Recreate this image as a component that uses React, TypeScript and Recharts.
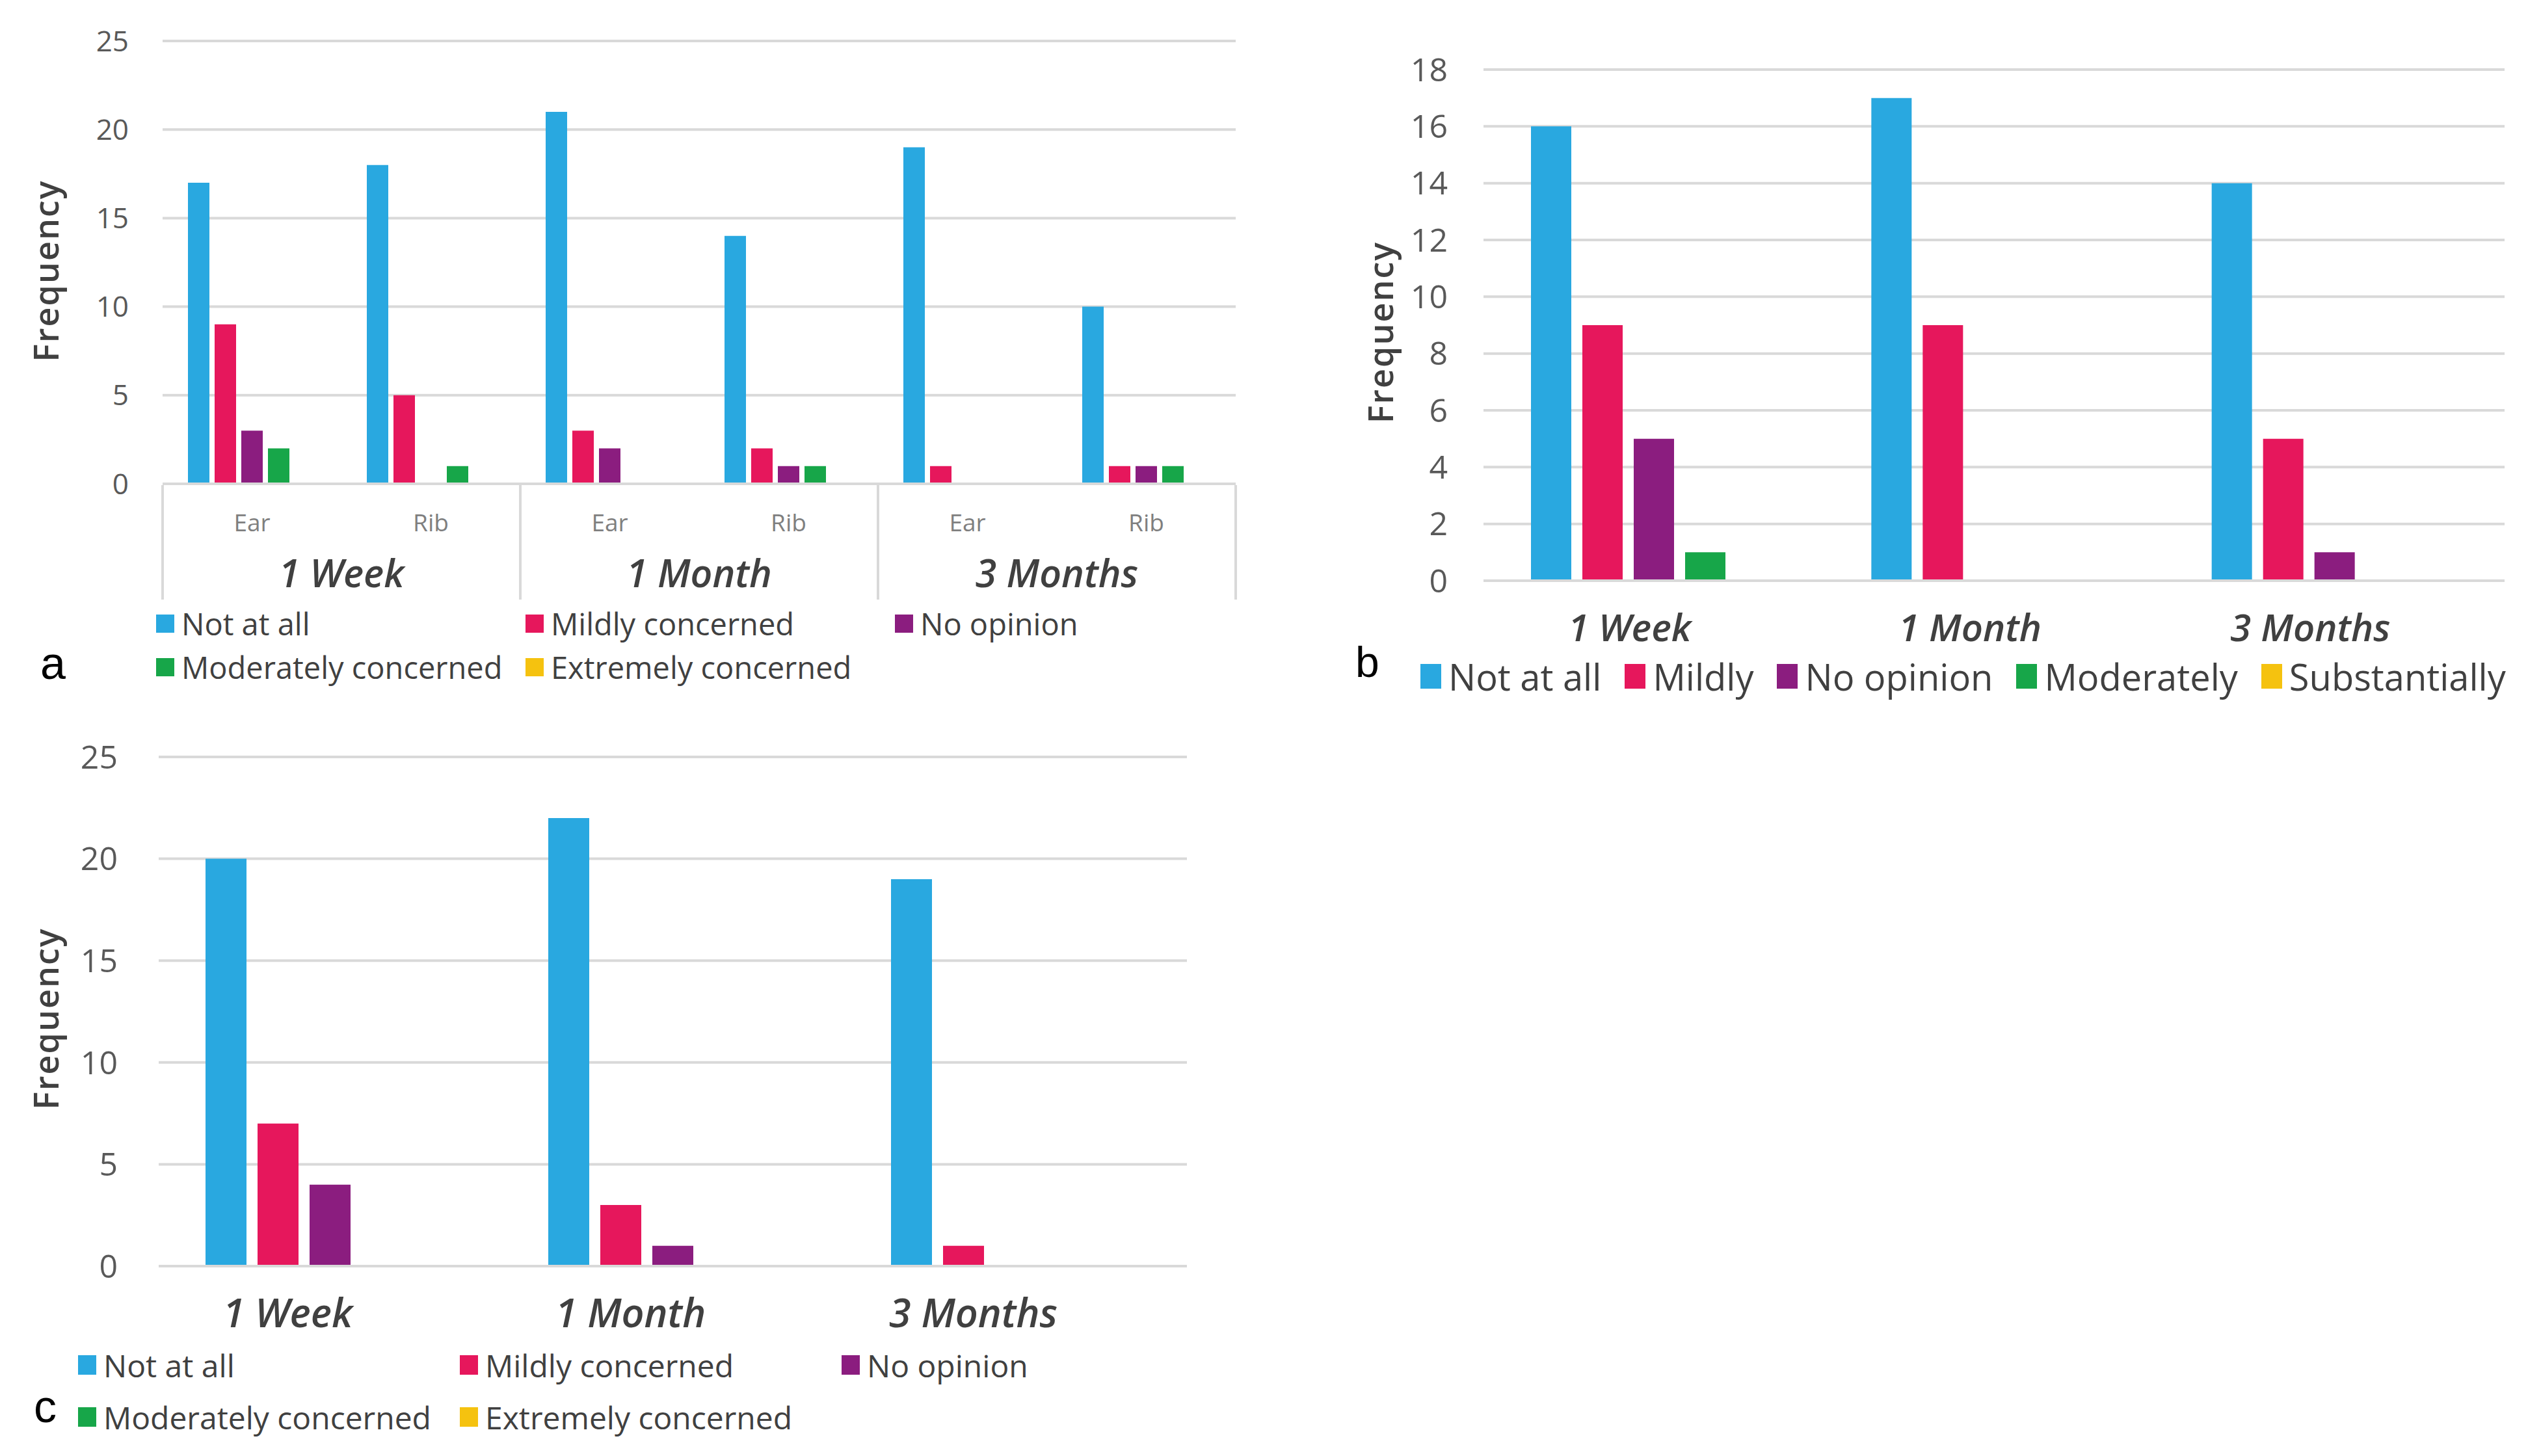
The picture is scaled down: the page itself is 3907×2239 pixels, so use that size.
import React from 'react';
import { BarChart, Bar, XAxis, YAxis, CartesianGrid, Legend } from 'recharts';

// panel a: site x period
const A_PERIODS = ['1 Week', '1 Month', '3 Months'];
const A_SITES = ['Ear', 'Rib', 'Ear', 'Rib', 'Ear', 'Rib'];
const A_NOT_AT_ALL = [17, 18, 21, 14, 19, 10];
const A_MILDLY = [9, 5, 3, 2, 1, 1];
const A_NO_OPINION = [3, 0, 2, 1, 0, 1];
const A_MODERATELY = [2, 1, 0, 1, 0, 1];
const A_EXTREMELY = [0, 0, 0, 0, 0, 0];
const A_LEGEND = ['Not at all', 'Mildly concerned', 'No opinion', 'Moderately concerned', 'Extremely concerned'];
const A_TICKS = [0, 5, 10, 15, 20, 25];

// panel b
const B_PERIODS = ['1 Week', '1 Month', '3 Months'];
const B_NOT_AT_ALL = [16, 17, 14];
const B_MILDLY = [9, 9, 5];
const B_NO_OPINION = [5, 0, 1];
const B_MODERATELY = [1, 0, 0];
const B_SUBSTANTIALLY = [0, 0, 0];
const B_LEGEND = ['Not at all', 'Mildly', 'No opinion', 'Moderately', 'Substantially'];
const B_TICKS = [0, 2, 4, 6, 8, 10, 12, 14, 16, 18];

// panel c
const C_PERIODS = ['1 Week', '1 Month', '3 Months'];
const C_NOT_AT_ALL = [20, 22, 19];
const C_MILDLY = [7, 3, 1];
const C_NO_OPINION = [4, 1, 0];
const C_MODERATELY = [0, 0, 0];
const C_EXTREMELY = [0, 0, 0];
const C_LEGEND = ['Not at all', 'Mildly concerned', 'No opinion', 'Moderately concerned', 'Extremely concerned'];
const C_TICKS = [0, 5, 10, 15, 20, 25];

const COLORS = ['#29a8e0', '#e6175c', '#8b1d7f', '#17a649', '#f5c20f'];
const KEYS = ['s0', 's1', 's2', 's3', 's4'];
const FONT = '"Open Sans", sans-serif';
const GRID = '#d9d9d9';

const build = (labels: string[], cols: number[][], extra?: string[]) =>
  labels.map((l, i) => {
    const row: any = { label: l, period: extra ? extra[Math.floor(i / 2)] : l };
    cols.forEach((c, k) => (row[KEYS[k]] = c[i]));
    return row;
  });

const aData = build(A_SITES, [A_NOT_AT_ALL, A_MILDLY, A_NO_OPINION, A_MODERATELY, A_EXTREMELY], A_PERIODS);
const bData = build(B_PERIODS, [B_NOT_AT_ALL, B_MILDLY, B_NO_OPINION, B_MODERATELY, B_SUBSTANTIALLY]);
const cData = build(C_PERIODS, [C_NOT_AT_ALL, C_MILDLY, C_NO_OPINION, C_MODERATELY, C_EXTREMELY]);

const freqLabel = (cx: number, dy: number, size: number) => (props: any) => {
  const vb = props.viewBox;
  const x = vb.x + cx;
  const y = vb.y + vb.height / 2 + dy;
  return (
    <text x={x} y={y} transform={`rotate(-90 ${x} ${y})`} textAnchor="middle" dominantBaseline="central"
      fontFamily={FONT} fontSize={size} fontWeight={600} fill="#404040" letterSpacing={2}>
      Frequency
    </text>
  );
};

const periodTick = (dy: number, dx: number, size: number) => (props: any) => (
  <text x={props.x + dx} y={props.y + dy} textAnchor="middle" dominantBaseline="central" fontFamily={FONT}
    fontSize={size} fontStyle="italic" fontWeight={600} fill="#404040">
    {props.payload.value}
  </text>
);

const siteTick = (props: any) => (
  <text x={props.x} y={props.y + 56} textAnchor="middle" dominantBaseline="central" fontFamily={FONT}
    fontSize={37} fill="#7f7f7f">
    {props.payload.value}
  </text>
);

// grouped period axis: label in the middle, border lines at the band edges
const groupTick = (props: any) => {
  const half = props.payload.offset || 0;
  const last = props.index === A_PERIODS.length - 1;
  return (
    <g>
      <line x1={props.x - half} x2={props.x - half} y1={props.y - 76} y2={props.y + 100} stroke={GRID} strokeWidth={4} />
      {last && <line x1={props.x + half} x2={props.x + half} y1={props.y - 76} y2={props.y + 100} stroke={GRID} strokeWidth={4} />}
      <text x={props.x} y={props.y + 58} textAnchor="middle" dominantBaseline="central" fontFamily={FONT}
        fontSize={59} fontStyle="italic" fontWeight={600} fill="#404040">
        {props.payload.value}
      </text>
    </g>
  );
};

const legendContent = (colWidth: number | null, size: number, rowH: number, gap: number, sq: [number, number]) => (props: any) => {
  const items = [...(props.payload || [])].sort((p: any, q: any) => KEYS.indexOf(p.dataKey) - KEYS.indexOf(q.dataKey));
  return (
    <div style={{ display: 'flex', flexWrap: 'wrap', columnGap: colWidth ? 0 : gap, fontFamily: FONT }}>
      {items.map((p: any) => (
        <div key={p.value} style={{ display: 'flex', alignItems: 'center', height: rowH, width: colWidth ?? 'auto' }}>
          <span style={{ width: sq[0], height: sq[1], background: p.color, marginRight: 11, display: 'inline-block' }} />
          <span style={{ fontSize: size, color: '#404040', whiteSpace: 'nowrap' }}>{p.value}</span>
        </div>
      ))}
    </div>
  );
};

const bars = (names: string[]) =>
  KEYS.map((k, i) => <Bar key={k} dataKey={k} name={names[i]} fill={COLORS[i]} isAnimationActive={false} />);

const panelLetter = (t: string, left: number, top: number, size: number) => (
  <div style={{ position: 'absolute', left, top, fontFamily: '"Liberation Sans", Arial, sans-serif', fontSize: size, color: '#000', lineHeight: 1 }}>{t}</div>
);

export default function App() {
  return (
    <div style={{ position: 'absolute', left: 0, top: 0, width: 3907, height: 2239, background: '#fff' }}>
      {/* a */}
      <div style={{ position: 'absolute', left: 0, top: 0 }}>
        <BarChart width={1950} height={1100} data={aData} margin={{ top: 63, right: 50, left: 0, bottom: 40 }}
          barSize={33} barGap={8}>
          <CartesianGrid vertical={false} stroke={GRID} strokeWidth={4} />
          <XAxis dataKey="label" height={76} tick={siteTick} tickLine={false} tickSize={0}
            axisLine={{ stroke: GRID, strokeWidth: 4 }} interval={0} />
          <XAxis xAxisId="group" dataKey="period" allowDuplicatedCategory={false} height={100}
            tick={groupTick} tickLine={false} axisLine={false} tickSize={0} interval={0} />
          <YAxis width={250} domain={[0, 25]} ticks={A_TICKS} tickSize={0} tickMargin={52} axisLine={false}
            tickLine={false} tick={{ fontSize: 44, fill: '#595959', fontFamily: FONT }}
            label={{ content: freqLabel(69, 13, 52) }} />
          <Legend verticalAlign="bottom" content={legendContent(568, 47, 67, 0, [28, 28])}
            wrapperStyle={{ left: 240, top: 925, width: 1710, height: 140 }} />
          {bars(A_LEGEND)}
        </BarChart>
      </div>

      {/* b */}
      <div style={{ position: 'absolute', left: 2000, top: 0 }}>
        <BarChart width={1907} height={1150} data={bData} margin={{ top: 107, right: 56, left: 0, bottom: 42 }}
          barSize={62} barGap={17}>
          <CartesianGrid vertical={false} stroke={GRID} strokeWidth={4} />
          <XAxis dataKey="label" height={120} tick={periodTick(68, -37, 58)} tickLine={false} tickSize={0}
            axisLine={{ stroke: GRID, strokeWidth: 4 }} interval={0} />
          <YAxis width={281} domain={[0, 18]} ticks={B_TICKS} tickSize={0} tickMargin={55} axisLine={false}
            tickLine={false} tick={{ fontSize: 50, fill: '#595959', fontFamily: FONT }}
            label={{ content: freqLabel(121, 11, 52) }} />
          <Legend verticalAlign="bottom" content={legendContent(null, 56, 95, 36, [32, 38])}
            wrapperStyle={{ left: 184, top: 992, width: 1720, height: 95 }} />
          {bars(B_LEGEND)}
        </BarChart>
      </div>

      {/* c */}
      <div style={{ position: 'absolute', left: 0, top: 1100 }}>
        <BarChart width={1950} height={1139} data={cData} margin={{ top: 64, right: 125, left: 0, bottom: 15 }}
          barSize={63} barGap={17}>
          <CartesianGrid vertical={false} stroke={GRID} strokeWidth={4} />
          <XAxis dataKey="label" height={117} tick={periodTick(68, -65, 61)} tickLine={false} tickSize={0}
            axisLine={{ stroke: GRID, strokeWidth: 4 }} interval={0} />
          <YAxis width={244} domain={[0, 25]} ticks={C_TICKS} tickSize={0} tickMargin={63} axisLine={false}
            tickLine={false} tick={{ fontSize: 50, fill: '#595959', fontFamily: FONT }}
            label={{ content: freqLabel(69, 11, 52) }} />
          <Legend verticalAlign="bottom" content={legendContent(587, 48, 80, 0, [28, 30])}
            wrapperStyle={{ left: 120, top: 959, width: 1800, height: 160 }} />
          {bars(C_LEGEND)}
        </BarChart>
      </div>

      {panelLetter('a', 62, 985, 70)}
      {panelLetter('b', 2084, 985, 66)}
      {panelLetter('c', 52, 2128, 70)}
    </div>
  );
}
